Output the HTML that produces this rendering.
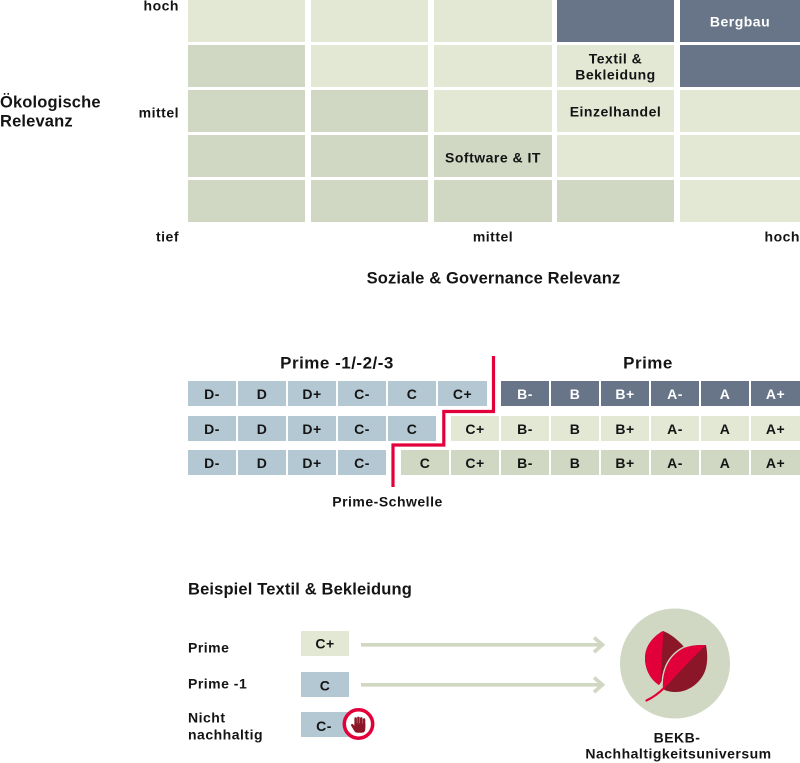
<!DOCTYPE html>
<html>
<head>
<meta charset="utf-8">
<style>
  html,body{margin:0;padding:0;background:#fff;}
  svg{display:block;}
  text{font-family:"Liberation Sans", Arial, sans-serif;font-weight:700;fill:#141414;}
  .s14{font-size:14px;letter-spacing:0.5px;}
  .s16{font-size:16.5px;letter-spacing:0.15px;}
  .s17{font-size:17px;letter-spacing:0.5px;}
  .w{fill:#ffffff;}
</style>
</head>
<body>
<svg width="800" height="763" viewBox="0 0 800 763" xmlns="http://www.w3.org/2000/svg">
  <defs>
    <clipPath id="cb"><path d="M663,631 C652,637 645,647 645,658 C645,670 651,680 659,685 L685,648 C678,640 671,634 663,631 Z"/></clipPath>
    <clipPath id="cf"><path d="M663,689 C662,672 668,657 682,649 C690,645 698,645 706,645 C708,656 708,668 702,677 C696,686 686,692 676,692 C671,692 666,691 663,689 Z"/></clipPath>
  </defs>

  <!-- ===== Top matrix ===== -->
  <g>
    <!-- row 0 -->
    <rect x="188" y="0" width="117" height="42" fill="#e3e8d5"/>
    <rect x="311" y="0" width="117" height="42" fill="#e3e8d5"/>
    <rect x="434" y="0" width="118" height="42" fill="#e3e8d5"/>
    <rect x="557" y="0" width="117" height="42" fill="#687588"/>
    <rect x="680" y="0" width="120" height="42" fill="#687588"/>
    <!-- row 1 -->
    <rect x="188" y="45" width="117" height="42" fill="#d0d7c2"/>
    <rect x="311" y="45" width="117" height="42" fill="#e3e8d5"/>
    <rect x="434" y="45" width="118" height="42" fill="#e3e8d5"/>
    <rect x="557" y="45" width="117" height="42" fill="#e3e8d5"/>
    <rect x="680" y="45" width="120" height="42" fill="#687588"/>
    <!-- row 2 -->
    <rect x="188" y="90" width="117" height="42" fill="#d0d7c2"/>
    <rect x="311" y="90" width="117" height="42" fill="#d0d7c2"/>
    <rect x="434" y="90" width="118" height="42" fill="#e3e8d5"/>
    <rect x="557" y="90" width="117" height="42" fill="#e3e8d5"/>
    <rect x="680" y="90" width="120" height="42" fill="#e3e8d5"/>
    <!-- row 3 -->
    <rect x="188" y="135" width="117" height="42" fill="#d0d7c2"/>
    <rect x="311" y="135" width="117" height="42" fill="#d0d7c2"/>
    <rect x="434" y="135" width="118" height="42" fill="#d0d7c2"/>
    <rect x="557" y="135" width="117" height="42" fill="#e3e8d5"/>
    <rect x="680" y="135" width="120" height="42" fill="#e3e8d5"/>
    <!-- row 4 -->
    <rect x="188" y="180" width="117" height="42" fill="#d0d7c2"/>
    <rect x="311" y="180" width="117" height="42" fill="#d0d7c2"/>
    <rect x="434" y="180" width="118" height="42" fill="#d0d7c2"/>
    <rect x="557" y="180" width="117" height="42" fill="#d0d7c2"/>
    <rect x="680" y="180" width="120" height="42" fill="#e3e8d5"/>
  </g>

  <text class="s14 w" x="740" y="26.3" text-anchor="middle">Bergbau</text>
  <text class="s14" x="615.5" y="63.3" text-anchor="middle">Textil &amp;</text>
  <text class="s14" x="615.5" y="79.3" text-anchor="middle">Bekleidung</text>
  <text class="s14" x="615.5" y="116.7" text-anchor="middle">Einzelhandel</text>
  <text class="s14" x="493" y="162.3" text-anchor="middle">Software &amp; IT</text>

  <text class="s14" x="179" y="10.7" text-anchor="end">hoch</text>
  <text class="s14" x="179" y="117.3" text-anchor="end">mittel</text>
  <text class="s14" x="179" y="241.6" text-anchor="end">tief</text>

  <text class="s16" x="0" y="107.7">Ökologische</text>
  <text class="s16" x="0" y="126.7">Relevanz</text>

  <text class="s14" x="493" y="241.6" text-anchor="middle">mittel</text>
  <text class="s14" x="800" y="241.6" text-anchor="end">hoch</text>

  <text class="s16" x="493.5" y="283.3" text-anchor="middle">Soziale &amp; Governance Relevanz</text>

  <!-- ===== Rating scale ===== -->
  <text class="s17" x="337" y="368.3" text-anchor="middle">Prime -1/-2/-3</text>
  <text class="s17" x="648" y="368.3" text-anchor="middle">Prime</text>

  <!-- row 1 -->
  <g>
    <rect x="188" y="381" width="48" height="25" fill="#b4c8d3"/>
    <rect x="238" y="381" width="48" height="25" fill="#b4c8d3"/>
    <rect x="288" y="381" width="48" height="25" fill="#b4c8d3"/>
    <rect x="338" y="381" width="48" height="25" fill="#b4c8d3"/>
    <rect x="388" y="381" width="48" height="25" fill="#b4c8d3"/>
    <rect x="438" y="381" width="49" height="25" fill="#b4c8d3"/>
    <rect x="501" y="381" width="48" height="25" fill="#687588"/>
    <rect x="551" y="381" width="48" height="25" fill="#687588"/>
    <rect x="601" y="381" width="48" height="25" fill="#687588"/>
    <rect x="651" y="381" width="48" height="25" fill="#687588"/>
    <rect x="701" y="381" width="48" height="25" fill="#687588"/>
    <rect x="751" y="381" width="49" height="25" fill="#687588"/>
  </g>
  <g class="s14" text-anchor="middle">
    <text x="212" y="399">D-</text>
    <text x="262" y="399">D</text>
    <text x="312" y="399">D+</text>
    <text x="362" y="399">C-</text>
    <text x="412" y="399">C</text>
    <text x="462.5" y="399">C+</text>
    <text class="w" x="525" y="399">B-</text>
    <text class="w" x="575" y="399">B</text>
    <text class="w" x="625" y="399">B+</text>
    <text class="w" x="675" y="399">A-</text>
    <text class="w" x="725" y="399">A</text>
    <text class="w" x="775.5" y="399">A+</text>
  </g>

  <!-- row 2 -->
  <g>
    <rect x="188" y="416" width="48" height="25" fill="#b4c8d3"/>
    <rect x="238" y="416" width="48" height="25" fill="#b4c8d3"/>
    <rect x="288" y="416" width="48" height="25" fill="#b4c8d3"/>
    <rect x="338" y="416" width="48" height="25" fill="#b4c8d3"/>
    <rect x="388" y="416" width="48" height="25" fill="#b4c8d3"/>
    <rect x="451" y="416" width="48" height="25" fill="#e3e8d5"/>
    <rect x="501" y="416" width="48" height="25" fill="#e3e8d5"/>
    <rect x="551" y="416" width="48" height="25" fill="#e3e8d5"/>
    <rect x="601" y="416" width="48" height="25" fill="#e3e8d5"/>
    <rect x="651" y="416" width="48" height="25" fill="#e3e8d5"/>
    <rect x="701" y="416" width="48" height="25" fill="#e3e8d5"/>
    <rect x="751" y="416" width="49" height="25" fill="#e3e8d5"/>
  </g>
  <g class="s14" text-anchor="middle">
    <text x="212" y="434">D-</text>
    <text x="262" y="434">D</text>
    <text x="312" y="434">D+</text>
    <text x="362" y="434">C-</text>
    <text x="412" y="434">C</text>
    <text x="475" y="434">C+</text>
    <text x="525" y="434">B-</text>
    <text x="575" y="434">B</text>
    <text x="625" y="434">B+</text>
    <text x="675" y="434">A-</text>
    <text x="725" y="434">A</text>
    <text x="775.5" y="434">A+</text>
  </g>

  <!-- row 3 -->
  <g>
    <rect x="188" y="450" width="48" height="25" fill="#b4c8d3"/>
    <rect x="238" y="450" width="48" height="25" fill="#b4c8d3"/>
    <rect x="288" y="450" width="48" height="25" fill="#b4c8d3"/>
    <rect x="338" y="450" width="48" height="25" fill="#b4c8d3"/>
    <rect x="401" y="450" width="48" height="25" fill="#d0d7c2"/>
    <rect x="451" y="450" width="48" height="25" fill="#d0d7c2"/>
    <rect x="501" y="450" width="48" height="25" fill="#d0d7c2"/>
    <rect x="551" y="450" width="48" height="25" fill="#d0d7c2"/>
    <rect x="601" y="450" width="48" height="25" fill="#d0d7c2"/>
    <rect x="651" y="450" width="48" height="25" fill="#d0d7c2"/>
    <rect x="701" y="450" width="48" height="25" fill="#d0d7c2"/>
    <rect x="751" y="450" width="49" height="25" fill="#d0d7c2"/>
  </g>
  <g class="s14" text-anchor="middle">
    <text x="212" y="468">D-</text>
    <text x="262" y="468">D</text>
    <text x="312" y="468">D+</text>
    <text x="362" y="468">C-</text>
    <text x="425" y="468">C</text>
    <text x="475" y="468">C+</text>
    <text x="525" y="468">B-</text>
    <text x="575" y="468">B</text>
    <text x="625" y="468">B+</text>
    <text x="675" y="468">A-</text>
    <text x="725" y="468">A</text>
    <text x="775.5" y="468">A+</text>
  </g>

  <!-- Prime threshold line -->
  <polyline points="493.5,356 493.5,411.5 443.8,411.5 443.8,445 393,445 393,487" fill="none" stroke="#e2003b" stroke-width="3.2" stroke-linejoin="miter"/>
  <text class="s14" x="387.5" y="506.7" text-anchor="middle">Prime-Schwelle</text>

  <!-- ===== Example section ===== -->
  <text class="s16" x="188" y="594.3">Beispiel Textil &amp; Bekleidung</text>

  <text class="s14" x="188" y="652.3">Prime</text>
  <text class="s14" x="188" y="688.3">Prime -1</text>
  <text class="s14" x="188" y="722.3">Nicht</text>
  <text class="s14" x="188" y="739.3">nachhaltig</text>

  <rect x="301" y="631" width="48" height="25" fill="#e3e8d5"/>
  <rect x="301" y="672" width="48" height="25" fill="#b4c8d3"/>
  <rect x="301" y="712" width="48" height="25" fill="#b4c8d3"/>
  <text class="s14" x="325" y="648.7" text-anchor="middle">C+</text>
  <text class="s14" x="325" y="690.7" text-anchor="middle">C</text>
  <text class="s14" x="324" y="731" text-anchor="middle">C-</text>

  <!-- stop icon -->
  <circle cx="358.5" cy="724" r="14.2" fill="#ffffff" stroke="#e2003b" stroke-width="3.5"/>
  <g fill="#8a1628">
    <rect x="354.4" y="717.3" width="2.5" height="10" rx="1.2"/>
    <rect x="357.2" y="716.6" width="2.5" height="10" rx="1.2"/>
    <rect x="360" y="717.1" width="2.5" height="10" rx="1.2"/>
    <rect x="362.8" y="718.3" width="2.5" height="10" rx="1.2"/>
    <path d="M354.4,723.5 L365.3,723.5 L365.3,729 Q365.3,732.8 361.5,732.8 L357.5,732.8 Q355.2,732.8 354,730.5 L351.2,725.8 Q350.6,724.6 351.6,724.1 Q352.6,723.6 353.4,724.6 L354.4,726 Z"/>
  </g>

  <!-- arrows -->
  <g stroke="#d0d7c2" stroke-width="3.6" fill="none">
    <line x1="361" y1="644.8" x2="602" y2="644.8"/>
    <polyline points="594,637.5 602.5,644.8 594,652.1"/>
    <line x1="361" y1="684.8" x2="602" y2="684.8"/>
    <polyline points="594,677.5 602.5,684.8 594,692.1"/>
  </g>

  <!-- universe circle with leaves -->
  <circle cx="675" cy="663.5" r="55" fill="#d0d7c2"/>
  <!-- back leaf -->
  <path d="M663,631 C652,637 645,647 645,658 C645,670 651,680 659,685 L685,648 C678,640 671,634 663,631 Z" fill="#8a1628"/>
  <g clip-path="url(#cb)">
    <path d="M663.5,629 L660,690 L630,690 L630,625 Z" fill="#e2003b"/>
  </g>
  <!-- front leaf -->
  <path d="M663,689 C662,672 668,657 682,649 C690,645 698,645 706,645 C708,656 708,668 702,677 C696,686 686,692 676,692 C671,692 666,691 663,689 Z" fill="#8a1628" stroke="#d0d7c2" stroke-width="3"/>
  <g clip-path="url(#cf)">
    <rect x="640" y="630" width="80" height="70" fill="#8a1628"/>
    <path d="M663,690 Q682,668 708,643 L708,628 L645,628 L645,690 Z" fill="#e2003b"/>
  </g>
  <path d="M664,688 Q656,696 646.5,700.5" fill="none" stroke="#e2003b" stroke-width="2.2" stroke-linecap="round"/>

  <text class="s14" x="677" y="742.3" text-anchor="middle">BEKB-</text>
  <text class="s14" x="678.5" y="758.3" text-anchor="middle">Nachhaltigkeitsuniversum</text>
</svg>
</body>
</html>
